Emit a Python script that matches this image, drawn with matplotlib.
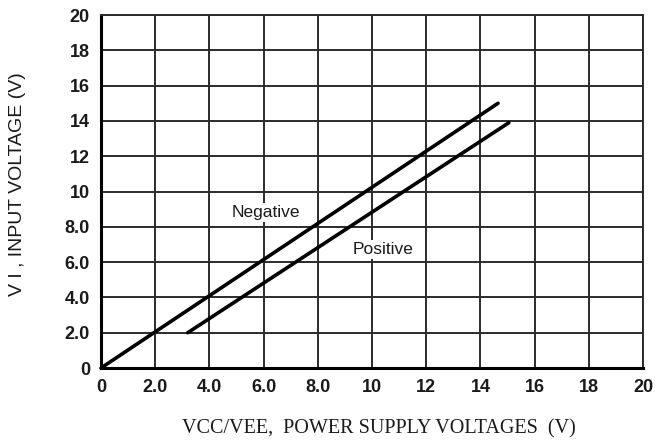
import matplotlib
matplotlib.use("Agg")
import matplotlib.pyplot as plt

# curve end points
neg_x = [0.0, 14.65]
neg_y = [0.0, 15.0]
pos_x = [3.2, 15.05]
pos_y = [2.0, 13.9]

ticks = [0, 2, 4, 6, 8, 10, 12, 14, 16, 18, 20]
tick_labels = ["0", "2.0", "4.0", "6.0", "8.0", "10", "12", "14", "16", "18", "20"]

fig = plt.figure(figsize=(6.55, 4.47), dpi=100)
ax = fig.add_axes([0.1542, 0.1767, 0.8275, 0.7897])

grid_col = "#2b2b2b"
ax.set_xlim(0, 20)
ax.set_ylim(0, 20)
ax.set_xticks(ticks)
ax.set_yticks(ticks)
ax.set_xticklabels(tick_labels)
ax.set_yticklabels(tick_labels)
ax.grid(True, color=grid_col, linewidth=1.4)
ax.set_axisbelow(True)
ax.tick_params(length=0, labelsize=13, pad=8)
for lab in ax.get_xticklabels() + ax.get_yticklabels():
    lab.set_fontfamily("Liberation Sans")
    lab.set_fontweight("bold")
    lab.set_color("#1a1a1a")

for side in ["top", "right"]:
    ax.spines[side].set_color(grid_col)
    ax.spines[side].set_linewidth(1.4)
for side in ["left", "bottom"]:
    ax.spines[side].set_color("black")
    ax.spines[side].set_linewidth(2.2)

ax.plot(neg_x, neg_y, color="black", linewidth=2.6, solid_capstyle="round", clip_on=False)
ax.plot(pos_x, pos_y, color="black", linewidth=2.6, solid_capstyle="round")

box = dict(facecolor="white", edgecolor="none", pad=1.5)
ax.text(6.1, 8.8, "Negative", family="Liberation Sans", fontsize=12.5,
        ha="center", va="center", color="#1a1a1a", bbox=box)
ax.text(10.4, 6.7, "Positive", family="Liberation Sans", fontsize=12.5,
        ha="center", va="center", color="#1a1a1a", bbox=box)

ax.set_ylabel("V I , INPUT VOLTAGE (V)", family="Liberation Sans", fontsize=14,
              color="#1a1a1a")
ax.yaxis.set_label_coords(-0.138, 0.52)
ax.set_xlabel("VCC/VEE,  POWER SUPPLY VOLTAGES  (V)", family="Liberation Serif",
              fontsize=14.5, color="#1a1a1a")
ax.xaxis.set_label_coords(0.512, -0.145)

fig.savefig("out.png", dpi=100)
